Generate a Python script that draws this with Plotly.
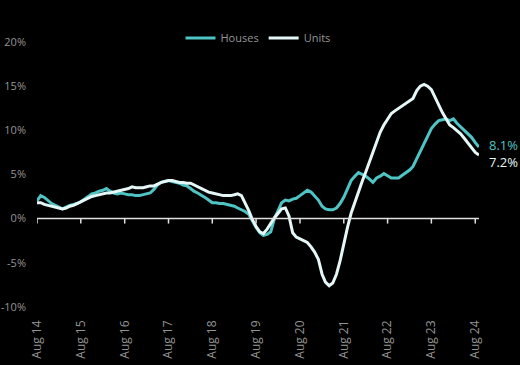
import plotly.graph_objects as go
import pandas as pd

months = pd.date_range("2014-08-01", periods=122, freq="MS")

houses = [2.0, 2.6, 2.4, 2.0, 1.7, 1.5, 1.3, 1.1, 1.3, 1.5, 1.6, 1.7,
          1.9, 2.2, 2.5, 2.8, 2.9, 3.1, 3.2, 3.4, 3.1, 2.9, 2.8, 2.9,
          2.8, 2.7, 2.7, 2.6, 2.6, 2.7, 2.8, 2.9, 3.3, 3.8, 4.1, 4.2,
          4.3, 4.2, 4.1, 4.0, 3.8, 3.7, 3.4, 3.1, 2.9, 2.7, 2.4, 2.1,
          1.8, 1.8, 1.7, 1.7, 1.6, 1.5, 1.4, 1.2, 1.0, 0.8, 0.5, -0.3,
          -1.0, -1.6, -1.9, -1.8, -1.5, 0.0, 1.0, 1.8, 2.1, 2.0, 2.2, 2.3,
          2.6, 2.9, 3.2, 3.0, 2.6, 2.1, 1.4, 1.1, 1.0, 1.0, 1.2, 1.7,
          2.4, 3.4, 4.3, 4.8, 5.2, 5.0, 4.8, 4.5, 4.1, 4.6, 4.8, 5.1,
          4.8, 4.6, 4.6, 4.6, 4.9, 5.2, 5.5, 5.9, 6.8, 7.7, 8.6, 9.4,
          10.2, 10.7, 11.1, 11.2, 11.3, 11.1, 11.3, 10.8, 10.4, 10.0, 9.7, 9.2,
          8.6, 8.1]

units = [1.8, 1.8, 1.6, 1.5, 1.4, 1.3, 1.2, 1.1, 1.2, 1.4, 1.5, 1.7,
         1.9, 2.1, 2.3, 2.5, 2.6, 2.7, 2.8, 2.9, 2.9, 3.0, 3.1, 3.2,
         3.3, 3.4, 3.6, 3.5, 3.5, 3.5, 3.6, 3.7, 3.7, 3.9, 4.1, 4.2,
         4.3, 4.3, 4.2, 4.1, 4.1, 4.0, 4.0, 3.8, 3.6, 3.4, 3.2, 3.0,
         2.9, 2.8, 2.7, 2.6, 2.6, 2.6, 2.7, 2.8, 2.6, 1.8, 0.9, -0.1,
         -0.9, -1.5, -1.7, -1.2, -0.5, 0.1, 0.6, 1.1, 1.2, 0.3, -1.6, -2.1,
         -2.3, -2.5, -2.7, -3.2, -3.8, -4.6, -6.3, -7.2, -7.6, -7.3, -6.3, -4.8,
         -2.8, -1.0, 0.6, 1.9, 3.1, 4.2, 5.3, 6.3, 7.5, 8.6, 9.8, 10.6,
         11.2, 11.9, 12.2, 12.5, 12.7, 13.0, 13.3, 13.6, 14.5, 15.0, 15.2, 15.0,
         14.6, 13.7, 12.9, 12.0, 11.3, 10.6, 10.3, 10.0, 9.6, 9.1, 8.6, 8.0,
         7.5, 7.2]

tick_dates = pd.date_range("2014-08-01", "2024-08-01", freq="12MS")
tick_labels = ["Aug " + d.strftime("%y") for d in tick_dates]
y_ticks = [-10, -5, 0, 5, 10, 15, 20]
y_labels = [f"{v}%" for v in y_ticks]

TEAL = "#4fc4c4"
WHITE = "#e6f7f7"
GRAY = "#959595"
FONT = "Open Sans"

fig = go.Figure()
fig.add_trace(go.Scatter(x=months, y=houses, name="Houses", mode="lines",
                         line=dict(color=TEAL, width=3)))
fig.add_trace(go.Scatter(x=months, y=units, name="Units", mode="lines",
                         line=dict(color=WHITE, width=3)))

# zero line and tick marks
fig.add_shape(type="line", xref="x", yref="y", x0=tick_dates[0], x1=months[-1],
              y0=0, y1=0, line=dict(color="#e0e0e0", width=1.5))
for d in tick_dates:
    fig.add_shape(type="line", xref="x", yref="y", ysizemode="pixel", yanchor=0,
                  x0=d, x1=d, y0=0, y1=-5, line=dict(color="#e0e0e0", width=1.5))

fig.add_annotation(x=months[-1], y=houses[-1], xref="x", yref="y",
                   text=f"{houses[-1]}%", showarrow=False, xanchor="left",
                   xshift=8, yshift=2, font=dict(color=TEAL, size=13, family=FONT))
fig.add_annotation(x=months[-1], y=units[-1], xref="x", yref="y",
                   text=f"{units[-1]}%", showarrow=False, xanchor="left",
                   xshift=8, yshift=-7, font=dict(color=WHITE, size=13, family=FONT))

fig.update_layout(
    width=520, height=365,
    paper_bgcolor="black", plot_bgcolor="black",
    margin=dict(l=37, r=41, t=20, b=50, autoexpand=False),
    font=dict(family=FONT, color=GRAY, size=11),
    showlegend=True,
    legend=dict(orientation="h", x=0.5, xanchor="center", y=0.939, yanchor="middle",
                font=dict(color=GRAY, size=11, family=FONT), bgcolor="rgba(0,0,0,0)"),
    xaxis=dict(range=[tick_dates[0], months[-1]], showgrid=False, zeroline=False,
               showline=False, tickmode="array", tickvals=tick_dates, automargin=False,
               ticktext=tick_labels, tickangle=-90, ticks="", ticklabelstandoff=2,
               tickfont=dict(color=GRAY, size=12, family=FONT)),
    yaxis=dict(range=[-10.92, 22.49], showgrid=False, zeroline=False, automargin=False,
               showline=False, tickmode="array", tickvals=y_ticks,
               ticktext=y_labels, ticks="", ticklabelstandoff=10,
               tickfont=dict(color=GRAY, size=11, family=FONT)),
)

fig.write_html("out.html", config={"displayModeBar": False},
               post_script="document.body.style.margin='0';document.body.style.background='black';")
